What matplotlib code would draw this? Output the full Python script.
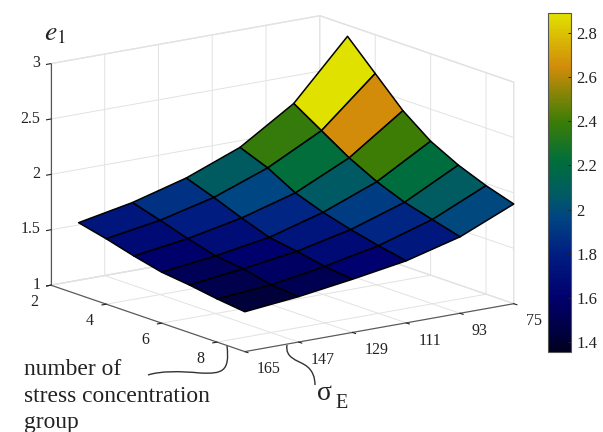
# -*- coding: utf-8 -*-
import matplotlib
matplotlib.use('Agg')
import matplotlib.pyplot as plt
import numpy as np
from matplotlib.cm import ScalarMappable
from matplotlib.colors import LinearSegmentedColormap, Normalize
from matplotlib.patches import PathPatch
from matplotlib.path import Path

plt.rcParams['font.family'] = ['Liberation Serif', 'DejaVu Serif']
plt.rcParams['mathtext.fontset'] = 'stix'

sigma = [165, 147, 129, 111, 93, 75]
groups = [3, 4, 5, 6, 7, 8, 9]
e1 = [
    [1.65, 1.745, 1.88, 2.07, 2.38, 2.90],
    [1.59, 1.67, 1.79, 1.97, 2.22, 2.65],
    [1.52, 1.59, 1.69, 1.83, 2.06, 2.40],
    [1.46, 1.52, 1.60, 1.74, 1.93, 2.21],
    [1.43, 1.49, 1.56, 1.67, 1.83, 2.08],
    [1.39, 1.43, 1.51, 1.61, 1.76, 1.98],
    [1.36, 1.41, 1.48, 1.56, 1.69, 1.90],
]
group_ticks = [2, 4, 6, 8]
z_ticks = [1, 1.5, 2, 2.5, 3]
z_labels = ['1', '1.5', '2', '2.5', '3']
cbar_ticks = [1.4, 1.6, 1.8, 2, 2.2, 2.4, 2.6, 2.8]
cbar_labels = ['1.4', '1.6', '1.8', '2', '2.2', '2.4', '2.6', '2.8']

# colour stops: value, rgb
cmap_values = [1.355, 1.43, 1.6, 1.8, 1.97, 2.06, 2.22, 2.4, 2.65, 2.89]
cmap_colors = ['#00001e', '#00003c', '#00006e', '#001e82', '#004682', '#005a64',
               '#006e3c', '#3c7d05', '#d28c0a', '#e1e100']

norm = Normalize(1.355, 2.89)
cmap = LinearSegmentedColormap.from_list(
    'e1map', [(norm(v), c) for v, c in zip(cmap_values, cmap_colors)])

fig = plt.figure(figsize=(6.03, 4.32), dpi=100)
ax = fig.add_axes([-0.001, 0.087, 0.92, 0.95], projection='3d', proj_type='ortho')

X, Y = np.meshgrid(sigma, groups)
Z = np.array(e1)
# matlab style flat colour: each face takes the value of its vertex on the low stress side
C = np.roll(Z, -1, axis=1)
surf = ax.plot_surface(X, Y, Z, facecolors=cmap(norm(C)), rstride=1, cstride=1, shade=False,
                       edgecolor='black', linewidth=1.1, antialiased=True)
surf.set_clip_on(False)

ax.view_init(elev=14.3, azim=54.2)
ax.set_box_aspect((335, 335, 231), zoom=1.234)
ax.set_xlim(75, 165)
ax.set_ylim(2, 9)
ax.set_zlim(1, 3)
ax.set_xticks(sigma)
ax.set_yticks(group_ticks)
ax.set_zticks(z_ticks)
ax.set_zticklabels(z_labels)

for axis in (ax.xaxis, ax.yaxis, ax.zaxis):
    axis.set_pane_color((1, 1, 1, 1))
    axis.pane.set_edgecolor('#e2e2e2')
    axis.pane.set_clip_on(False)
    axis.line.set_color('#555555')
    axis.line.set_clip_on(False)
    axis._axinfo['grid']['color'] = '#e2e2e2'
    axis._axinfo['grid']['linewidth'] = 0.7
    axis._axinfo['tick']['color'] = '#333333'
    axis._axinfo['tick']['inward_factor'] = 0.2
    axis._axinfo['tick']['outward_factor'] = 0
ax.tick_params(labelsize=11.5, colors='#222222', pad=0)
ax.tick_params(axis='x', pad=1.5)
ax.tick_params(axis='y', pad=1.5)
ax.tick_params(axis='z', pad=-4.5)
for lbl in ax.get_xticklabels():
    lbl.set_ha('left')
    lbl.set_va('center')
for lbl in ax.get_yticklabels():
    lbl.set_va('center')
for lbl in ax.get_zticklabels():
    lbl.set_ha('right')
    lbl.set_va('center')

cax = fig.add_axes([548 / 603, 1 - 352 / 432, 23 / 603, 339 / 432])
cb = fig.colorbar(ScalarMappable(norm=norm, cmap=cmap), cax=cax)
cb.set_ticks(cbar_ticks)
cb.set_ticklabels(cbar_labels)
cb.ax.tick_params(direction='in', length=2, width=0.7, labelsize=12, pad=4, colors='#222222')
cb.outline.set_edgecolor('#555555')
cb.outline.set_linewidth(0.8)

fig.text(44 / 603, 1 - 40 / 432, r'$e_1$', fontsize=20, color='#222222')
fig.text(24 / 603, 1 - 375 / 432, 'number of', fontsize=16.9, color='#222222')
fig.text(24 / 603, 1 - 402 / 432, 'stress concentration', fontsize=16.9, color='#222222')
fig.text(24 / 603, 1 - 428 / 432, 'group', fontsize=16.9, color='#222222')
fig.text(317 / 603, 1 - 400 / 432, 'σ', fontsize=20, color='#222222')
fig.text(335 / 603, 1 - 408 / 432, 'E', fontsize=14.5, color='#222222')


def leader(points):
    pts = [(x / 603, 1 - y / 432) for x, y in points]
    codes = [Path.MOVETO] + [Path.CURVE4] * (len(pts) - 1)
    fig.add_artist(PathPatch(Path(pts, codes), fill=False, edgecolor='#333333', linewidth=1,
                             transform=fig.transFigure))


leader([(227, 346), (230, 372), (222, 374), (200, 373), (180, 371), (160, 371), (148, 375)])
leader([(287, 345), (285, 358), (297, 360), (305, 365), (313, 370), (315, 378), (315, 385)])

fig.savefig('out.png', dpi=100)
